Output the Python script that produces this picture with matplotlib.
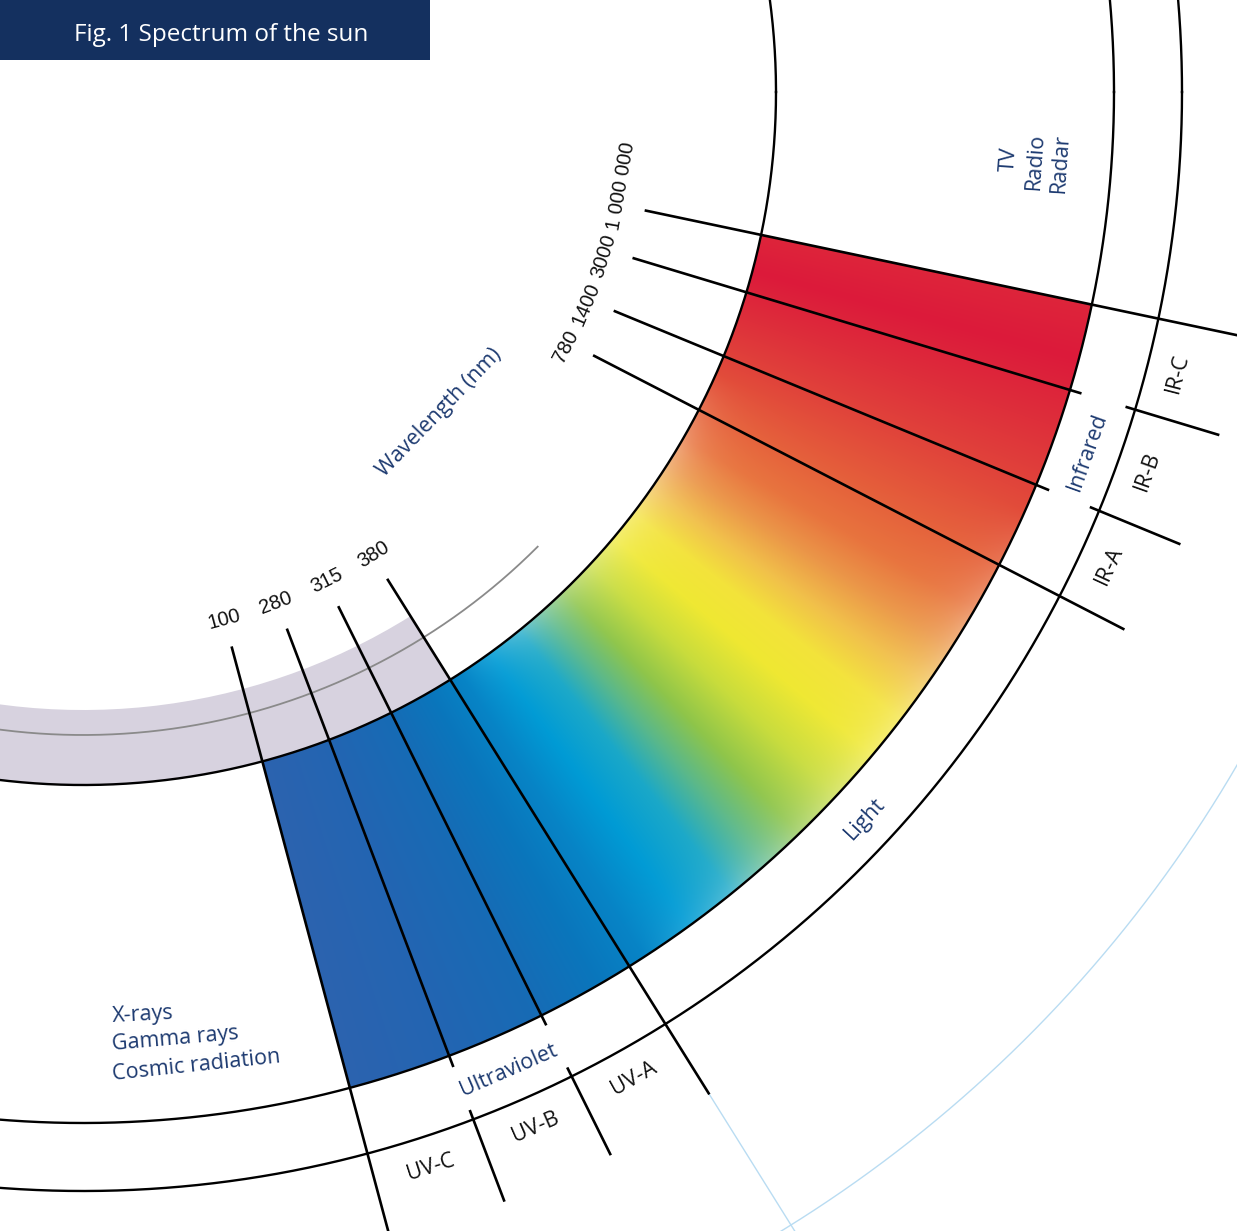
import numpy as np
import matplotlib
matplotlib.use('Agg')
import matplotlib.pyplot as plt
from matplotlib.patches import Wedge, Rectangle
from matplotlib.colors import to_rgb

plt.rcParams['font.family'] = ['Open Sans', 'DejaVu Sans']

# wavelength boundaries (nm) and where they sit on the circle (deg, clockwise from +x)
boundary_labels = ['100', '280', '315', '380', '780', '1400', '3000', '1 000 000']
boundary_angles = [75.0, 69.2, 63.6, 58.0, 27.3, 22.4, 16.8, 11.9]
label_angles = [75.0, 69.3, 63.5, 57.9, 27.8, 22.9, 17.5, 9.9]
line_ends = [1240, 1043, 1042, 1182, 1172, 1045, 1043, 1182]

# main bands in the middle ring
band_names = ['Ultraviolet', 'Light', 'Infrared']
band_angles = [66.5, 42.9, 19.7]

# sub bands in the outer ring
sub_names = ['UV-C', 'UV-B', 'UV-A', 'IR-A', 'IR-B', 'IR-C']
sub_angles = [72.1, 66.4, 60.8, 24.8, 19.6, 14.4]
sub_separators = [69.2, 63.6, 22.4, 16.8]

# colour stops of the spectrum band (angle, colour)
spec_angles = [11.9, 15, 19, 23, 27, 30, 32.5, 35, 37.5, 40, 43, 46, 48.5, 51, 54, 57, 60, 64, 69.2, 75]
spec_colors = ['#de253b', '#dc1a3a', '#de2f3a', '#e1463a', '#e5603b', '#e8743e', '#eb9648',
               '#f1c04a', '#f3e33a', '#efe832', '#c8dc3c', '#8ec54a', '#5ab88a', '#1aa8c8',
               '#009bd5', '#0784c6', '#0a76bc', '#176bb5', '#2365b2', '#2c63af']

# geometry (pixels)
CX, CY = 83, 92
R_GRAY_IN, R_GRAY_LINE, R_IN, R_OUT, R_RING, R_FAR = 618, 643, 693, 1031, 1099, 1336
R_LABEL, R_START = 546, 574
NAVY = '#1d3a70'


def polar(r, a):
    t = np.radians(a)
    return CX + r * np.cos(t), CY + r * np.sin(t)


fig = plt.figure(figsize=(12.37, 12.31), dpi=100)
ax = fig.add_axes([0, 0, 1, 1])
ax.axis('off')

# gray band inside the spectrum
ax.add_patch(Wedge((CX, CY), R_IN, 58.0, 110, width=R_IN - R_GRAY_IN,
                   facecolor='#d7d2df', edgecolor='none', zorder=1))
t = np.linspace(45, 110, 300)
ax.plot(*polar(R_GRAY_LINE, t), color='#8a8a8a', lw=1.3, zorder=2)

# spectrum gradient, clipped to the annulus sector
xs = np.arange(240, 1110) + 0.5
ys = np.arange(220, 1100) + 0.5
X, Y = np.meshgrid(xs, ys)
ang = np.degrees(np.arctan2(Y - CY, X - CX))
rad = np.hypot(X - CX, Y - CY)
cols = np.array([to_rgb(c) for c in spec_colors])
img = np.stack([np.interp(ang, spec_angles, cols[:, k]) for k in range(3)], axis=-1)
d = np.clip(np.minimum(rad - R_IN, R_OUT - rad), 0, None)
w = np.interp(ang, [24, 31, 50, 57], [0, 1, 1, 0]) * 0.3 * np.exp(-d / 25)
img = img + (1 - img) * w[..., None]
im = ax.imshow(img, extent=(240, 1110, 1100, 220), origin='upper',
               interpolation='bilinear', zorder=2)
clip = Wedge((CX, CY), R_OUT, boundary_angles[-1], boundary_angles[0],
             width=R_OUT - R_IN, facecolor='none', edgecolor='none')
ax.add_patch(clip)
im.set_clip_path(clip)

# circles
t = np.linspace(0, 360, 3000)
for r in [R_IN, R_OUT, R_RING]:
    ax.plot(*polar(r, t), color='black', lw=1.7, zorder=3)
ax.plot(*polar(R_FAR, t), color='#b9dcf2', lw=1.0, zorder=3)

# radial boundary lines + wavelength labels
for lab, a, la, r1 in zip(boundary_labels, boundary_angles, label_angles, line_ends):
    x, y = polar(np.array([R_START, r1]), a)
    ax.plot(x, y, color='black', lw=1.9, zorder=4, solid_capstyle='butt')
    tx, ty = polar(R_LABEL, la)
    ax.text(tx, ty, lab, rotation=90 - la, rotation_mode='anchor', ha='center',
            va='center', fontsize=14.5, color='#111111',
            family=['Liberation Sans', 'DejaVu Sans'])

# continuation of the 380 nm line
x, y = polar(np.array([1182, 1450]), 58.0)
ax.plot(x, y, color='#b9dcf2', lw=1.0, zorder=3)

# separators in the outer ring
for a in sub_separators:
    x, y = polar(np.array([1089, 1187]), a)
    ax.plot(x, y, color='black', lw=1.9, zorder=4, solid_capstyle='butt')

for name, a in zip(band_names, band_angles):
    tx, ty = polar(1067, a)
    ax.text(tx, ty, name, rotation=90 - a, rotation_mode='anchor', ha='center',
            va='center', fontsize=15.5, color=NAVY)

for name, a in zip(sub_names, sub_angles):
    tx, ty = polar(1130, a)
    ax.text(tx, ty, name, rotation=90 - a, rotation_mode='anchor', ha='center',
            va='center', fontsize=15.5, color='#111111')

ax.text(439, 413, 'Wavelength (nm)', rotation=46, rotation_mode='anchor',
        ha='center', va='center', fontsize=15.5, color=NAVY)

for txt, yb, rot in [('X-rays', 1022, 3), ('Gamma rays', 1050, 5), ('Cosmic radiation', 1080, 6)]:
    ax.text(113, yb, txt, rotation=rot, rotation_mode='anchor', ha='left',
            va='baseline', fontsize=15.5, color=NAVY)

ax.text(1035, 161, 'TV\nRadio\nRadar', rotation=86, rotation_mode='anchor',
        ha='center', va='center', multialignment='center', linespacing=1.3,
        fontsize=15.5, color=NAVY)

# title box
ax.add_patch(Rectangle((0, 0), 430, 60, facecolor='#14305f', edgecolor='none', zorder=5))
ax.text(221, 35, 'Fig. 1 Spectrum of the sun', ha='center', va='center',
        fontsize=17.5, color='white', zorder=6)

ax.set_xlim(0, 1237)
ax.set_ylim(1231, 0)
ax.set_aspect('auto')
fig.savefig('out.png', dpi=100)
